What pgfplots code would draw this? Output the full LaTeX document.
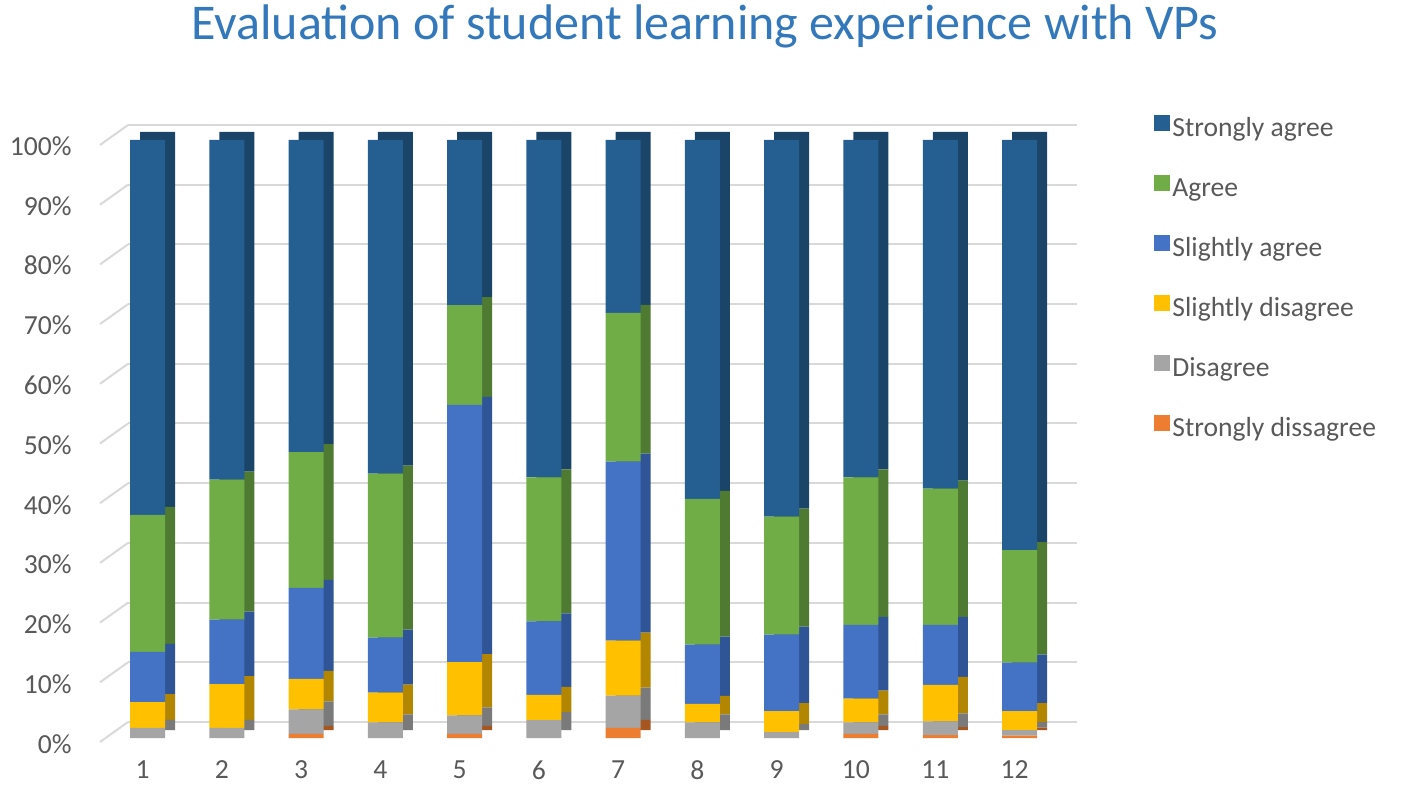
\documentclass[border=0pt]{standalone}
\usepackage{fontspec}
\setmainfont{Carlito}
\usepackage{pgfplots}
\usepackage{pgfplotstable}
\pgfplotsset{compat=1.18}
\definecolor{cSA}{HTML}{255E91}
\definecolor{cA}{HTML}{70AD47}
\definecolor{cSlA}{HTML}{4472C4}
\definecolor{cSlD}{HTML}{FFC000}
\definecolor{cD}{HTML}{A5A5A5}
\definecolor{cSD}{HTML}{ED7D31}
\definecolor{dSA}{HTML}{1A4468}
\definecolor{dA}{HTML}{4E7A32}
\definecolor{dSlA}{HTML}{2F5597}
\definecolor{dSlD}{HTML}{B38600}
\definecolor{dD}{HTML}{7A7A7A}
\definecolor{dSD}{HTML}{A65720}
\definecolor{titleblue}{HTML}{3378BA}
\definecolor{txt}{HTML}{595959}
\definecolor{gridc}{HTML}{D9D9D9}
\pgfplotstableread{
x SD D SlD SlA A SA
1 0 1.7 4.3 8.4 22.9 62.7
2 0 1.7 7.3 10.8 23.4 56.8
3 0.7 4.1 5.1 15.2 22.7 52.2
4 0 2.6 5.0 9.2 27.4 55.8
5 0.7 3.1 8.9 43.0 16.7 27.6
6 0 3.0 4.2 12.3 24.1 56.4
7 1.7 5.4 9.2 29.9 24.9 28.9
8 0 2.6 3.1 9.9 24.4 60.0
9 0 1.0 3.5 12.8 19.7 63.0
10 0.7 1.9 4.0 12.3 24.7 56.4
11 0.5 2.3 6.1 10.0 22.8 58.3
12 0.4 0.9 3.2 8.1 18.8 68.6
}\data
\pgfplotsset{base/.style={
  scale only axis, width=487.5pt, height=299pt,
  at={(50pt,27.5pt)}, anchor=south west,
  xmin=0.4, xmax=12.7, ymin=0, ymax=100,
  ybar stacked, bar width=17.5pt,
  axis line style={draw=none}, major tick length=0pt,
  ytick={0,10,...,100}, xtick={1,...,12},
}}
\begin{document}
\begin{tikzpicture}
\useasboundingbox (0,0) rectangle (709pt,396.5pt);
% back wall grid
\begin{axis}[scale only axis, width=474.5pt, height=298.5pt,
  at={(64pt,35.5pt)}, anchor=south west, clip=false,
  xmin=0, xmax=1, ymin=0, ymax=100, ytick={0,10,...,100}, xtick=\empty,
  yticklabels={}, axis line style={draw=none}, major tick length=0pt,
  ymajorgrids, grid style={draw=gridc, line width=1pt}]
\pgfplotsinvokeforeach{0,10,...,100}{
  \draw[gridc, line width=1pt] (axis cs:0,#1) -- ++(-14pt,-10pt);
}
\end{axis}
% side faces
\begin{axis}[base, clip=false, xticklabels={}, yticklabels={}]
\addplot[fill=dSD, draw=none, bar shift=5pt, yshift=4pt] table[x=x,y=SD]{\data};
\addplot[fill=dD, draw=none, bar shift=5pt, yshift=4pt] table[x=x,y=D]{\data};
\addplot[fill=dSlD, draw=none, bar shift=5pt, yshift=4pt] table[x=x,y=SlD]{\data};
\addplot[fill=dSlA, draw=none, bar shift=5pt, yshift=4pt] table[x=x,y=SlA]{\data};
\addplot[fill=dA, draw=none, bar shift=5pt, yshift=4pt] table[x=x,y=A]{\data};
\addplot[fill=dSA, draw=none, bar shift=5pt, yshift=4pt] table[x=x,y=SA]{\data};
\end{axis}
% front faces
\begin{axis}[base, clip=false,
  /pgf/number format/assume math mode=true,
  ticklabel style={font=\fontsize{13.8}{16}\selectfont, text=txt},
  yticklabel={\pgfmathprintnumber{\tick}\%},
  yticklabel style={anchor=east, inner sep=0pt, xshift=-14pt, yshift=-3pt},
  xticklabel style={anchor=north, inner sep=0pt, yshift=-11pt, xshift=-2.5pt},
  reverse legend,
  legend cell align=left,
  legend style={at={(1.0749,1.05)}, anchor=north west, draw=none, fill=none,
    font=\fontsize{13.8}{16}\selectfont, text=txt, row sep=15pt,
    nodes={inner sep=1pt, text height=10pt, text depth=3pt}},
  legend image code/.code={\draw[#1, draw=none] (0pt,-1pt) rectangle (8pt,7pt);},
]
\addplot[fill=cSD, draw=none] table[x=x,y=SD]{\data};
\addlegendentry{Strongly dissagree}
\addplot[fill=cD, draw=none] table[x=x,y=D]{\data};
\addlegendentry{Disagree}
\addplot[fill=cSlD, draw=none] table[x=x,y=SlD]{\data};
\addlegendentry{Slightly disagree}
\addplot[fill=cSlA, draw=none] table[x=x,y=SlA]{\data};
\addlegendentry{Slightly agree}
\addplot[fill=cA, draw=none] table[x=x,y=A]{\data};
\addlegendentry{Agree}
\addplot[fill=cSA, draw=none] table[x=x,y=SA]{\data};
\addlegendentry{Strongly agree}
\end{axis}
\node[font=\fontsize{25}{30}\selectfont, text=titleblue] at (352.5pt,383.5pt) {Evaluation of student learning experience with VPs};
\end{tikzpicture}
\end{document}
